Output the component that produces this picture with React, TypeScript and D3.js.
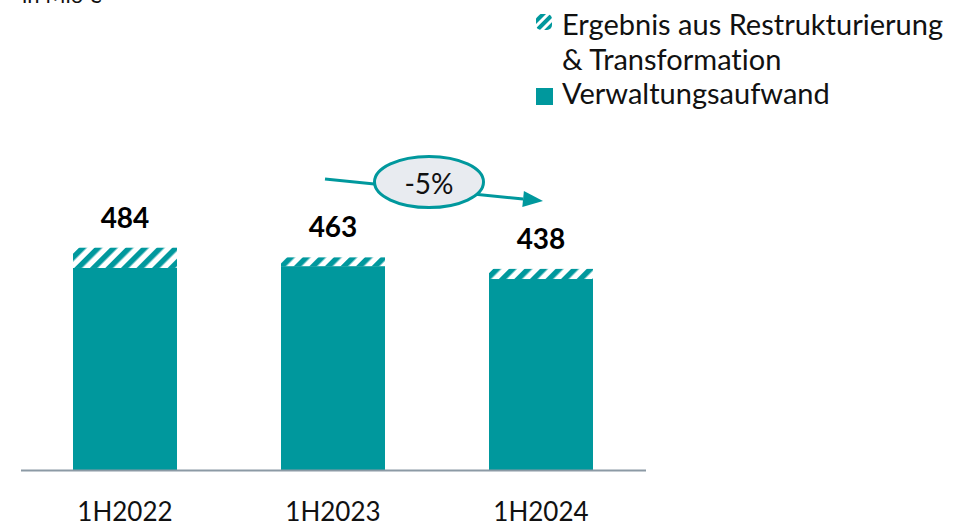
import React from "react";
import * as d3 from "d3";

const categories = ["1H2022", "1H2023", "1H2024"];
const verwaltung = [440, 444, 416];
const restrukturierung = [44, 19, 22];
const totals = [484, 463, 438];
const changeLabel = "-5%";
const unitLabel = "in Mio €";
const legendHatch = ["Ergebnis aus Restrukturierung", "& Transformation"];
const legendSolid = "Verwaltungsaufwand";

const W = 974;
const H = 527;
const TEAL = "#00989d";
const FONT = "Lato, 'Open Sans', sans-serif";

export default function App() {
  const x = d3.scaleBand<string>().domain(categories).range([21, 645]).paddingInner(0.5).paddingOuter(0.25);
  const y = d3.scaleLinear().domain([0, 500]).range([470.5, 470.5 - 230.15]);
  const bw = x.bandwidth();

  const stacked = d3.stack<any>().keys(["v", "r"])(
    categories.map((c, i) => ({ c, v: verwaltung[i], r: restrukturierung[i] }))
  );

  const c1 = (x(categories[1]) ?? 0) + bw / 2;
  const c2 = (x(categories[2]) ?? 0) + bw / 2;
  const ax0 = c1 - 8, ay0 = 179, ax1 = c2 + 2, ay1 = 201;
  const ang = Math.atan2(ay1 - ay0, ax1 - ax0);
  const hl = 20, hw = 8;
  const bx = ax1 - hl * Math.cos(ang), by = ay1 - hl * Math.sin(ang);
  const head = `M${ax1},${ay1} L${bx + hw * Math.sin(ang)},${by - hw * Math.cos(ang)} L${bx - hw * Math.sin(ang)},${by + hw * Math.cos(ang)} Z`;

  const ts = { fontVariantLigatures: "none" as const };

  return (
    <svg width={W} height={H} style={{ position: "absolute", left: 0, top: 0, background: "#fff" }} fontFamily={FONT}>
      <defs>
        <pattern id="hatch" patternUnits="userSpaceOnUse" width="11" height="11" patternTransform="rotate(45)">
          <rect width="11" height="11" fill="#fff" />
          <rect width="5.5" height="11" fill={TEAL} />
        </pattern>
        <pattern id="hatchL" patternUnits="userSpaceOnUse" width="7" height="7" patternTransform="rotate(45)">
          <rect width="7" height="7" fill="#fff" />
          <rect width="4" height="7" fill={TEAL} />
        </pattern>
      </defs>

      <text x={22} y={3} fontSize={22} fill="#111">{unitLabel}</text>

      {/* legend */}
      <rect x={536} y={14} width={16} height={16} rx={5} fill="url(#hatchL)" />
      <text x={562} y={35} fontSize={29} fill="#111" style={ts}>{legendHatch[0]}</text>
      <text x={562} y={70} fontSize={29} fill="#111" style={ts}>{legendHatch[1]}</text>
      <rect x={536} y={88} width={17} height={17} fill={TEAL} />
      <text x={562} y={104} fontSize={29} fill="#111" style={ts}>{legendSolid}</text>

      {/* bars */}
      {stacked.map((s) =>
        s.map((d, i) => (
          <rect
            key={s.key + i}
            x={x(categories[i])}
            y={y(d[1])}
            width={bw}
            height={y(d[0]) - y(d[1])}
            fill={s.key === "v" ? TEAL : "url(#hatch)"}
          />
        ))
      )}

      {/* axis */}
      <line x1={21} x2={646} y1={470.5} y2={470.5} stroke="#8c9aa5" strokeWidth={2} />

      {/* totals */}
      {totals.map((t, i) => (
        <text key={i} x={(x(categories[i]) ?? 0) + bw / 2} y={y(t) - 20} textAnchor="middle" fontSize={28} fontWeight={700} fill="#000">
          {t}
        </text>
      ))}

      {/* x labels */}
      {categories.map((c) => (
        <text key={c} x={(x(c) ?? 0) + bw / 2} y={521} textAnchor="middle" fontSize={26} fill="#111">
          {c}
        </text>
      ))}

      {/* change arrow */}
      <line x1={ax0} y1={ay0} x2={bx} y2={by} stroke={TEAL} strokeWidth={3} />
      <path d={head} fill={TEAL} />
      <ellipse cx={429} cy={182} rx={54.5} ry={25.5} fill="#e8ebf0" stroke={TEAL} strokeWidth={3} />
      <text x={429} y={194} textAnchor="middle" fontSize={28} fill="#111">{changeLabel}</text>
    </svg>
  );
}
